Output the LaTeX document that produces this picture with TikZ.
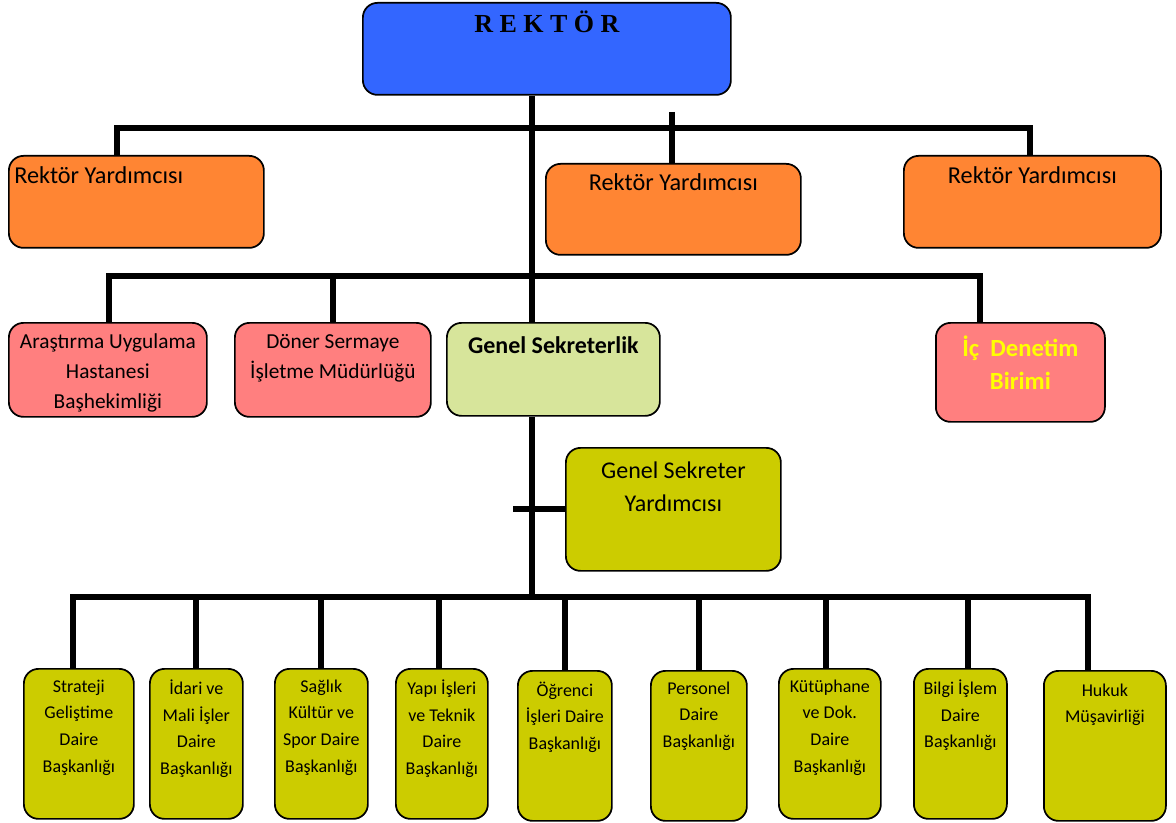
\documentclass[tikz,border=0pt]{standalone}
\usepackage{fontspec}
\setmainfont{Carlito}
\newfontfamily\rektorfont{Liberation Serif}

\definecolor{rektorblue}{HTML}{3366FF}
\definecolor{yrdorange}{HTML}{FF8533}
\definecolor{birimpink}{HTML}{FF7F7F}
\definecolor{gsgreen}{HTML}{D7E59B}
\definecolor{daireolive}{HTML}{CCCC00}
\definecolor{denetimyellow}{HTML}{FFFF00}

\begin{document}
\begin{tikzpicture}[
    x=0.75pt, y=-0.75pt,
    orgbox/.style={rectangle, rounded corners=11pt, draw=black, line width=1.3pt,
                   anchor=north west, inner sep=0pt},
    rektorbox/.style={orgbox, fill=rektorblue, minimum width=276pt, minimum height=69pt},
    yrdbox/.style={orgbox, fill=yrdorange, minimum width=191.25pt, minimum height=69pt},
    birimbox/.style={orgbox, fill=birimpink, minimum height=70.5pt},
    gsbox/.style={orgbox, fill=gsgreen, minimum width=159.75pt, minimum height=69.75pt},
    gsybox/.style={orgbox, fill=daireolive, minimum width=161.25pt, minimum height=92.25pt},
    dairebox/.style={orgbox, fill=daireolive, minimum height=112.5pt},
    lbl/.style={anchor=north, align=center, inner sep=0pt},
    yrdtext/.style={lbl, font=\fontsize{18.2}{22}\selectfont},
    birimtext/.style={lbl, font=\fontsize{16}{22.5}\selectfont},
    gstext/.style={lbl, font=\fontsize{18}{24.75}\selectfont},
    dairetext/.style={lbl, yshift=-8.6pt, font=\fontsize{13.5}{20}\selectfont},
    bus/.style={line width=4.5pt, draw=black}
]
\useasboundingbox[fill=white] (0,0) rectangle (1176,823);

% rektor and vice rectors
\node[rektorbox, label={[lbl, yshift=-6.5pt, font=\rektorfont\bfseries\fontsize{19.5}{24}\selectfont]north:R E K T Ö R}] (rektor) at (362,2) {};
\node[yrdbox, label={[yrdtext, anchor=north west, xshift=4.5pt, yshift=-8.6pt]north west:Rektör Yardımcısı}] (ry1) at (8,155) {};
\node[yrdbox, minimum height=68.25pt, label={[yrdtext, yshift=-8pt]north:Rektör Yardımcısı}] (ry2) at (545,163) {};
\node[yrdbox, minimum width=192.75pt, label={[yrdtext, yshift=-8.6pt]north:Rektör Yardımcısı}] (ry3) at (903,155) {};

% second row
\node[birimbox, minimum width=148.5pt, label={[birimtext, yshift=-8.8pt]north:{Araştırma Uygulama\\Hastanesi\\Başhekimliği}}] (arastirma) at (8,322) {};
\node[birimbox, minimum width=147pt, label={[birimtext, yshift=-8.8pt]north:{Döner Sermaye\\İşletme Müdürlüğü}}] (doner) at (234,322) {};
\node[gsbox, label={[gstext, yshift=-10.5pt, font=\bfseries\fontsize{18}{24}\selectfont]north:Genel Sekreterlik}] (gensek) at (446,322) {};
\node[birimbox, minimum width=126.75pt, minimum height=74.25pt,
      label={[lbl, yshift=-10pt, text=denetimyellow, font=\bfseries\fontsize{18.5}{24.75}\selectfont]north:{İç\ \ Denetim\\Birimi}}] (icdenetim) at (935,322) {};
\node[gsybox, label={[gstext, yshift=-11pt]north:{Genel Sekreter\\Yardımcısı}}] (gsy) at (565,447) {};

% departments
\node[dairebox, minimum width=82.5pt, label={[dairetext]north:{Strateji\\Geliştime\\Daire\\Başkanlığı}}] (strateji) at (23,668) {};
\node[dairebox, minimum width=69.75pt, label={[dairetext]north:{İdari ve\\Mali İşler\\Daire\\Başkanlığı}}] (idari) at (149,668) {};
\node[dairebox, minimum width=69.75pt, label={[dairetext]north:{Sağlık\\Kültür ve\\Spor Daire\\Başkanlığı}}] (saglik) at (274,668) {};
\node[dairebox, minimum width=69pt, label={[dairetext]north:{Yapı İşleri\\ve Teknik\\Daire\\Başkanlığı}}] (yapi) at (395,668) {};
\node[dairebox, minimum width=70.5pt, label={[dairetext]north:{Öğrenci\\İşleri Daire\\Başkanlığı}}] (ogrenci) at (517,670) {};
\node[dairebox, minimum width=72pt, label={[dairetext]north:{Personel\\Daire\\Başkanlığı}}] (personel) at (650,670) {};
\node[dairebox, minimum width=76.5pt, label={[dairetext]north:{Kütüphane\\ve Dok.\\Daire\\Başkanlığı}}] (kutuphane) at (778,668) {};
\node[dairebox, minimum width=69.75pt, label={[dairetext]north:{Bilgi İşlem\\Daire\\Başkanlığı}}] (bilgi) at (913,668) {};
\node[dairebox, minimum width=91.5pt, label={[dairetext, yshift=-1.5pt]north:{Hukuk\\Müşavirliği}}] (hukuk) at (1043,670) {};

% bus lines
\coordinate (trunk) at ([xshift=-11.25pt]rektor.south);
\coordinate (bar1w) at (117,128);
\coordinate (bar1e) at (1030,128);
\coordinate (ry2top) at (672,112);
\coordinate (bar2w) at (109,276);
\coordinate (bar2e) at (980,276);
\coordinate (bar3w) at (73,597);
\coordinate (bar3e) at (1088,597);
\coordinate (stub) at (513,510);

\draw[bus] (trunk) -- (trunk |- gensek.north);
\draw[bus] (trunk |- gensek.south) -- (trunk |- bar3w);
\draw[bus] (bar1w |- ry1.north) -- (bar1w) -- (bar1e) -- (bar1e |- ry3.north);
\draw[bus] (ry2top) -- (ry2top |- ry2.north);
\draw[bus] (bar2w |- arastirma.north) -- (bar2w) -- (bar2e) -- (bar2e |- icdenetim.north);
\draw[bus] (doner.north |- bar2w) -- (doner.north);
\draw[bus] (stub |- gsy.west) -- (gsy.west);
\draw[bus] (bar3w |- strateji.north) -- (bar3w) -- (bar3e) -- (bar3e |- hukuk.north);
\draw[bus] (idari.north |- bar3w) -- (idari.north);
\draw[bus] (saglik.north |- bar3w) -- (saglik.north);
\draw[bus] ([xshift=-2pt]yapi.north |- bar3w) -- ([xshift=-2pt]yapi.north);
\draw[bus] (ogrenci.north |- bar3w) -- (ogrenci.north);
\draw[bus] (personel.north |- bar3w) -- (personel.north);
\draw[bus] ([xshift=-3pt]kutuphane.north |- bar3w) -- ([xshift=-3pt]kutuphane.north);
\draw[bus] ([xshift=5.6pt]bilgi.north |- bar3w) -- ([xshift=5.6pt]bilgi.north);
\end{tikzpicture}
\end{document}
